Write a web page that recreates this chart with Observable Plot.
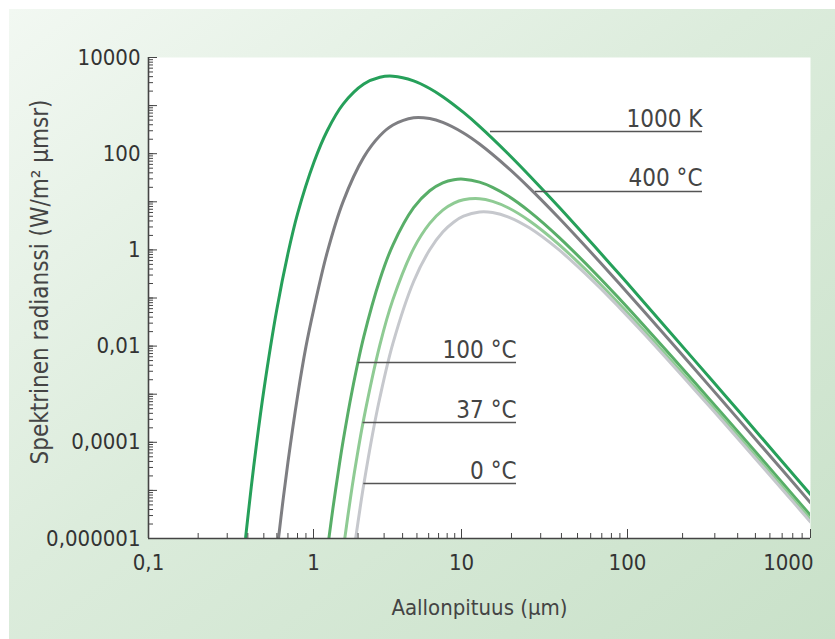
<!DOCTYPE html>
<html>
<head>
<meta charset="utf-8">
<script src="https://cdn.jsdelivr.net/npm/d3@7"></script>
<script src="https://cdn.jsdelivr.net/npm/@observablehq/plot@0.6"></script>
<style>
html, body { margin: 0; padding: 0; background: #ffffff; }
#wrap { position: relative; width: 835px; height: 639px; overflow: hidden; }
#bg { position: absolute; left: 9px; top: 9px; right: 0; bottom: 0;
      background: linear-gradient(to bottom right, #f2f8f2 0%, #dcecdc 45%, #c9e1c9 100%); }
#chart { position: absolute; left: 0; top: 0; }
</style>
</head>
<body>
<div id="wrap"><div id="bg"></div><div id="chart"></div></div>
<script>
// ---- Data (wavelength µm, spectral radiance W/m² µm sr) ----
const seriesNames  = ["1000 K", "400 °C", "100 °C", "37 °C", "0 °C"];
const seriesColors = ["#26a05a", "#7e7e82", "#58ae68", "#8fcb94", "#c6c8cd"];

const wl1000  = [0.388, 0.42, 0.45, 0.5, 0.6, 0.7, 0.8, 1.008, 1.236, 1.585, 2.187, 2.809, 3.444, 4.748, 6.098, 7.474, 10.28, 12.84, 19.22, 25.61, 38.40, 63.90, 89.40, 124.6, 233.2, 336.7, 534.5, 724.6, 1000];
const rad1000 = [1.07e-6, 1.21e-5, 8.4e-5, 1.21e-3, 0.059, 0.84, 5.62, 67.2, 297, 1071, 2798, 3875, 4083, 3277, 2273, 1532, 721, 370, 97.4, 35.3, 7.96, 1.143, 0.311, 0.077, 4.99e-3, 9.98e-4, 1.31e-4, 3.41e-5, 8.22e-6];

const wl400  = [0.613, 0.65, 0.7, 0.8, 0.9, 1.008, 1.236, 1.585, 2.187, 2.809, 3.444, 4.748, 6.098, 7.474, 10.28, 12.84, 19.22, 25.61, 38.40, 63.90, 89.40, 124.6, 233.2, 336.7, 534.5, 724.6, 1000];
const rad400 = [9.8e-7, 5.33e-6, 3.86e-5, 9.0e-4, 9.74e-3, 0.0618, 0.876, 10.1, 84.8, 236, 394, 558, 537, 447, 270, 159, 49.7, 19.5, 4.72, 0.714, 0.198, 0.050, 3.30e-3, 6.64e-4, 8.72e-5, 2.29e-5, 5.51e-6];

const wl100  = [1.271, 1.352, 1.469, 1.585, 1.823, 2.187, 2.809, 3.444, 4.748, 6.098, 7.474, 8.884, 10.28, 12.84, 15.39, 19.22, 25.61, 38.40, 63.90, 89.40, 124.6, 233.2, 336.7, 534.5, 724.6, 1000];
const rad100 = [1.02e-6, 4.17e-6, 2.39e-5, 1.06e-4, 1.17e-3, 0.0157, 0.243, 1.277, 7.54, 17.0, 24.8, 28.8, 29.5, 25.7, 20.0, 13.0, 6.33, 1.87, 0.328, 0.0964, 0.0253, 1.75e-3, 3.57e-4, 4.75e-5, 1.25e-5, 3.03e-6];

const wl37  = [1.623, 1.705, 1.823, 1.943, 2.187, 2.809, 3.444, 4.748, 6.098, 7.474, 8.884, 10.28, 12.84, 15.39, 19.22, 25.61, 38.40, 63.90, 89.40, 124.6, 233.2, 336.7, 534.5, 724.6, 1000];
const rad37 = [9.5e-7, 2.87e-6, 1.17e-5, 3.99e-5, 3.11e-4, 0.0106, 0.0936, 1.063, 3.55, 6.70, 9.36, 11.0, 11.6, 10.2, 7.44, 4.05, 1.325, 0.249, 0.0753, 0.0202, 1.42e-3, 2.93e-4, 3.92e-5, 1.03e-5, 2.51e-6];

const wl0  = [1.919, 2.065, 2.187, 2.496, 2.809, 3.444, 4.748, 6.098, 7.474, 8.884, 10.28, 12.84, 15.39, 19.22, 25.61, 38.40, 63.90, 89.40, 124.6, 233.2, 336.7, 534.5, 724.6, 1000];
const rad0 = [9.2e-7, 4.32e-6, 1.34e-5, 1.39e-4, 8.53e-4, 0.0115, 0.2205, 1.008, 2.35, 3.81, 5.01, 6.16, 6.00, 4.82, 2.88, 1.022, 0.204, 0.0631, 0.0172, 1.23e-3, 2.55e-4, 3.43e-5, 9.06e-6, 2.20e-6];

// leader lines for the labels: level (radiance), start and end wavelength
const leaderLabels = ["1000 K", "400 °C", "100 °C", "37 °C", "0 °C"];
const leaderY      = [289, 16.4, 0.00456, 2.58e-4, 1.39e-5];
const leaderX1     = [14.95, 27.9, 2.005, 2.163, 2.187];
const leaderX2     = [256.9, 256.9, 21.45, 21.45, 21.45];

// axis ticks and labels (the original axis is drawn with uneven decades)
const xTickValues = [0.1, 1, 10, 100, 1000];
const xTickLabels = ["0,1", "1", "10", "100", "1000"];
const xTickPixels = [148, 313, 461, 627, 810];
const yTickValues = [1e4, 100, 1, 0.01, 1e-4, 1e-6];
const yTickLabels = ["10000", "100", "1", "0,01", "0,0001", "0,000001"];
const xTitle = "Aallonpituus (µm)";
const yTitle = "Spektrinen radianssi (W/m² µmsr)";

// ---- build tables ----
const curveSets = [[wl1000, rad1000], [wl400, rad400], [wl100, rad100], [wl37, rad37], [wl0, rad0]];
const rows = curveSets.flatMap(([w, r], s) => w.map((v, i) => ({series: seriesNames[s], wl: v, rad: r[i]})));
const leaders = leaderLabels.map((l, i) => ({label: l, y: leaderY[i], x1: leaderX1[i], x2: leaderX2[i]}));
const xLab = new Map(xTickValues.map((v, i) => [v, xTickLabels[i]]));
const yLab = new Map(yTickValues.map((v, i) => [v, yTickLabels[i]]));
const decadeMinor = (lo, hi) => { const out = []; for (let e = lo; e < hi; e++) for (let m = 1; m <= 9; m++) out.push(m * Math.pow(10, e)); out.push(Math.pow(10, hi)); return out; };
const xMinor = decadeMinor(-1, 3);
const yMinor = decadeMinor(-6, 4);
const yDecades = [1e-6, 1e-5, 1e-4, 1e-3, 1e-2, 0.1, 1, 10, 100, 1000, 1e4];

const FONT = '"Liberation Sans Narrow", "Arial Narrow", "DejaVu Sans Condensed", sans-serif';
const W = 835, H = 639, ML = 148, MR = 25, MT = 57, MB = 101;
const PW = W - ML - MR, PH = H - MT - MB;

const chart = Plot.plot({
  width: W, height: H,
  marginLeft: ML, marginRight: MR, marginTop: MT, marginBottom: MB,
  style: {fontFamily: FONT, background: "transparent", color: "#333", overflow: "visible"},
  x: {type: "log", domain: xTickValues, range: xTickPixels, axis: null},
  y: {type: "log", domain: [1e-6, 1e4], axis: null},
  color: {domain: seriesNames, range: seriesColors},
  marks: [
    Plot.frame({fill: "white", stroke: null}),
    Plot.line(rows, {x: "wl", y: "rad", z: "series", stroke: "series", strokeWidth: 3, curve: "catmull-rom", clip: true}),
    Plot.ruleY(leaders, {y: "y", x1: "x1", x2: "x2", stroke: "#555", strokeWidth: 1.6}),
    Plot.text(leaders, {x: "x2", y: "y", text: "label", textAnchor: "end", lineAnchor: "bottom", dy: -5, fontSize: 24, fill: "#444"}),
    // ticks (inward)
    Plot.ruleX(xMinor, {x: d => d, insetTop: PH - 5, stroke: "#444", strokeWidth: 1}),
    Plot.ruleX(xTickValues, {x: d => d, insetTop: PH - 9, stroke: "#444", strokeWidth: 1}),
    Plot.ruleY(yMinor, {y: d => d, insetRight: PW - 5, stroke: "#444", strokeWidth: 1}),
    Plot.ruleY(yDecades, {y: d => d, insetRight: PW - 9, stroke: "#444", strokeWidth: 1}),
    // axis lines
    Plot.ruleX([0.1], {stroke: "#444", strokeWidth: 1.6}),
    Plot.ruleY([1e-6], {stroke: "#444", strokeWidth: 1.6}),
    // tick labels
    Plot.axisX(xTickValues.slice(0, 4), {tickSize: 0, tickPadding: 16, fontSize: 22, tickFormat: d => xLab.get(d), label: null, fill: "#333"}),
    Plot.axisX(xTickValues.slice(4), {tickSize: 0, tickPadding: 16, fontSize: 22, tickFormat: d => xLab.get(d), label: null, fill: "#333", textAnchor: "end", dx: 3}),
    Plot.axisY(yTickValues, {tickSize: 0, tickPadding: 8, fontSize: 22, tickFormat: d => yLab.get(d), label: null, fill: "#333"}),
    // axis titles
    Plot.text([xTitle], {frameAnchor: "bottom", lineAnchor: "middle", dy: 69, fontSize: 22, fill: "#444"}),
    Plot.text([yTitle], {frameAnchor: "left", textAnchor: "middle", lineAnchor: "middle", dx: -108, dy: -16, rotate: -90, fontSize: 24, fill: "#444"})
  ]
});
document.getElementById("chart").appendChild(chart);
</script>
</body>
</html>
